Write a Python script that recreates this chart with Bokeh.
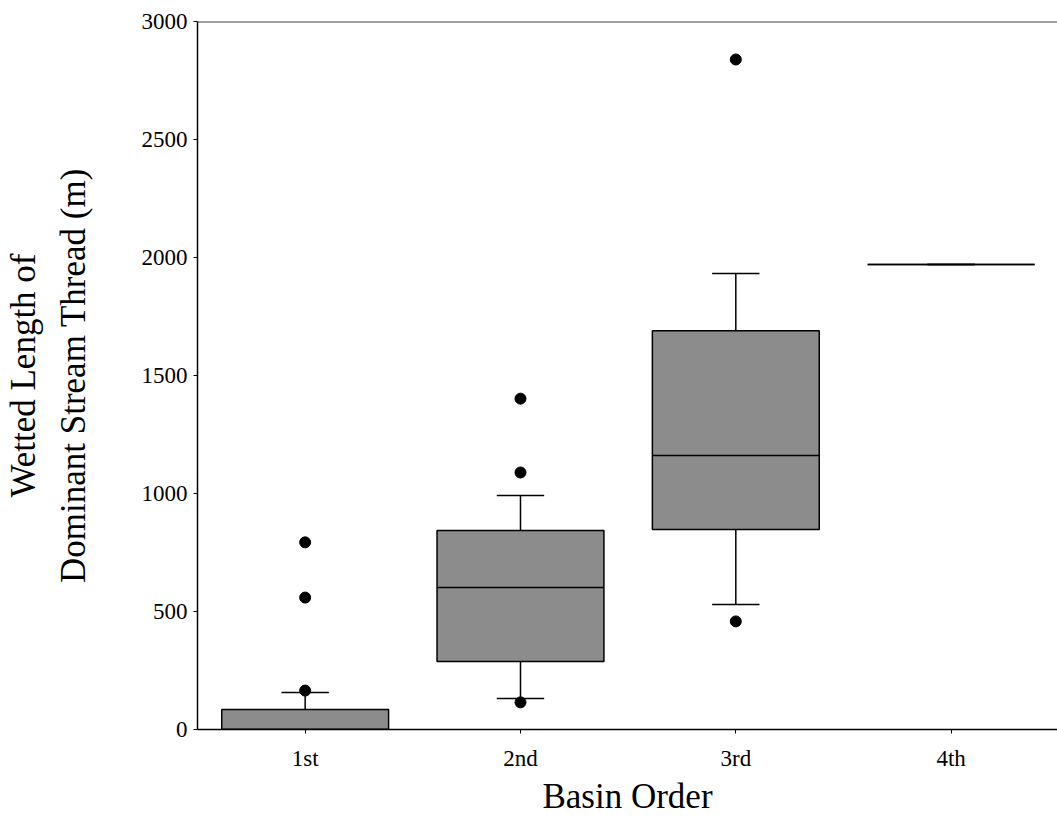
from bokeh.plotting import figure
from bokeh.models import Range1d, FixedTicker, Span, ColumnDataSource
from bokeh.embed import file_html
from bokeh.resources import INLINE

# ---- data ----
categories = ["1st", "2nd", "3rd", "4th"]
q1 = [0, 288, 847, 1970]
median = [0, 602, 1161, 1970]
q3 = [85, 843, 1690, 1970]
lower = [0, 131, 530, 1970]
upper = [157, 991, 1932, 1970]
outlier_cat = ["1st", "1st", "1st", "2nd", "2nd", "2nd", "3rd", "3rd"]
outlier_val = [165, 559, 793, 115, 1089, 1402, 2839, 458]
y_ticks = [0, 500, 1000, 1500, 2000, 2500, 3000]

FONT = "Liberation Serif"
BOX_W = 0.775
CAP_W = 0.22

pos = {c: i + 0.5 for i, c in enumerate(categories)}
xs = [pos[c] for c in categories]

p = figure(width=1057, height=819, output_backend="svg", toolbar_location=None,
           x_range=Range1d(0, 3.994), y_range=Range1d(0, 3000),
           min_border_left=197, min_border_right=0, min_border_top=21, min_border_bottom=90)
p.outline_line_color = None
p.xgrid.visible = False
p.ygrid.visible = False
p.background_fill_color = "white"
p.border_fill_color = "white"

src = ColumnDataSource(dict(
    x=xs, q1=q1, med=median, q3=q3, lo=lower, up=upper,
    xl=[x - BOX_W / 2 for x in xs], xr=[x + BOX_W / 2 for x in xs],
    cl=[x - CAP_W / 2 for x in xs], cr=[x + CAP_W / 2 for x in xs],
))

# whiskers
p.segment(x0="x", x1="x", y0="q3", y1="up", source=src, line_color="black", line_width=1.5)
p.segment(x0="x", x1="x", y0="q1", y1="lo", source=src, line_color="black", line_width=1.5)
p.segment(x0="cl", x1="cr", y0="up", y1="up", source=src, line_color="black", line_width=1.5)
p.segment(x0="cl", x1="cr", y0="lo", y1="lo", source=src, line_color="black", line_width=1.5)
# boxes
p.vbar(x="x", width=BOX_W, bottom="q1", top="q3", source=src,
       fill_color="#8c8c8c", line_color="black", line_width=1.5)
# medians
p.segment(x0="xl", x1="xr", y0="med", y1="med", source=src, line_color="black", line_width=1.5)
# outliers
p.scatter(x=[pos[c] for c in outlier_cat], y=outlier_val, size=11,
          fill_color="black", line_color="black")

# top border line
p.add_layout(Span(location=3000, dimension="width", line_color="#444444", line_width=2))

# axes
for ax in (p.xaxis[0], p.yaxis[0]):
    ax.axis_line_color = "black"
    ax.axis_line_width = 1.5
    ax.major_tick_line_color = "black"
    ax.major_tick_in = 0
    ax.major_tick_out = 4
    ax.minor_tick_line_color = None
    ax.major_label_text_font = FONT
    ax.major_label_text_font_size = "23px"
    ax.major_label_text_color = "black"
    ax.axis_label_text_font = FONT
    ax.axis_label_text_font_size = "35px"
    ax.axis_label_text_font_style = "normal"
    ax.axis_label_text_color = "black"

p.xaxis.ticker = FixedTicker(ticks=xs)
p.xaxis.major_label_overrides = {x: c for x, c in zip(xs, categories)}
p.xaxis.major_label_standoff = 12
p.xaxis.axis_label = "Basin Order"
p.xaxis.axis_label_standoff = 3

p.yaxis.ticker = FixedTicker(ticks=y_ticks)
p.yaxis.major_label_standoff = 6
p.yaxis.axis_label = "Wetted Length of\nDominant Stream Thread (m)"
p.yaxis.axis_label_text_line_height = 1.28
p.yaxis.axis_label_standoff = 46

open("out.html", "w").write(file_html(p, INLINE))
